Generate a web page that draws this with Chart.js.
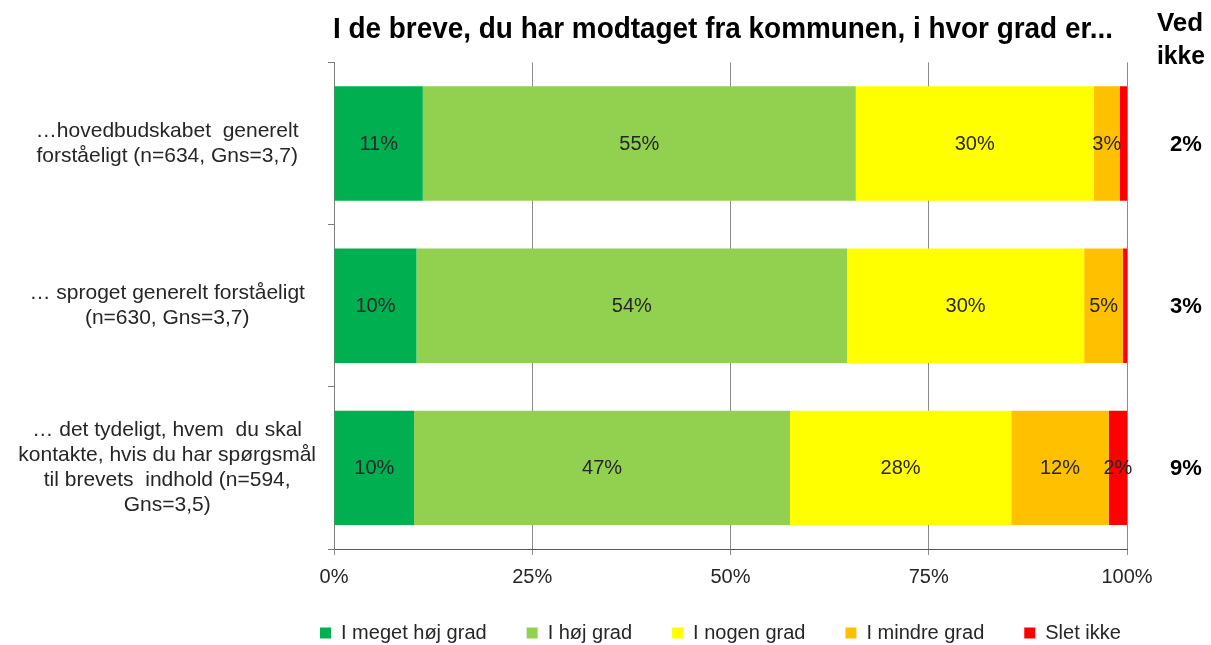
<!DOCTYPE html>
<html>
<head>
<meta charset="utf-8">
<script src="https://cdn.jsdelivr.net/npm/chart.js@4/dist/chart.umd.min.js"></script>
<style>
  html, body { margin: 0; padding: 0; background: #fff; }
  #wrap { width: 1211px; height: 645px; position: relative; }
</style>
</head>
<body>
<div id="wrap"><canvas id="myChart"></canvas></div>
<script>
// data
const titleText = "I de breve, du har modtaget fra kommunen, i hvor grad er...";
const categories = [
  ["…hovedbudskabet  generelt", "forståeligt (n=634, Gns=3,7)"],
  ["… sproget generelt forståeligt", "(n=630, Gns=3,7)"],
  ["… det tydeligt, hvem  du skal", "kontakte, hvis du har spørgsmål", "til brevets  indhold (n=594,", "Gns=3,5)"]
];
const seriesNames = ["I meget høj grad", "I høj grad", "I nogen grad", "I mindre grad", "Slet ikke"];
const meget = [11.2, 10.4, 10.1];
const hoj = [54.6, 54.3, 47.4];
const nogen = [30.0, 29.9, 27.9];
const mindre = [3.3, 4.9, 12.3];
const slet = [0.9, 0.5, 2.3];
const vedIkke = [2, 3, 9];
const xTicks = [0, 25, 50, 75, 100];

const colors = ["#00B050", "#92D050", "#FFFF00", "#FFC000", "#FF0000"];
const values = [meget, hoj, nogen, mindre, slet];

Chart.defaults.font.family = "'Liberation Sans', Arial, sans-serif";
Chart.defaults.color = "#262626";

// labels inside the bars
const barLabels = {
  id: "barLabels",
  afterDatasetsDraw(chart) {
    const ctx = chart.ctx;
    ctx.save();
    ctx.font = "20px 'Liberation Sans', Arial, sans-serif";
    ctx.fillStyle = "#262626";
    ctx.textAlign = "center";
    ctx.textBaseline = "middle";
    chart.data.datasets.forEach((ds, i) => {
      const meta = chart.getDatasetMeta(i);
      meta.data.forEach((bar, j) => {
        const v = ds.data[j];
        if (v < 1.5) return;
        const p = bar.getProps(["x", "base", "y"], true);
        ctx.fillText(Math.round(v) + "%", (p.x + p.base) / 2, p.y + 1);
      });
    });
    ctx.restore();
  }
};

// title + "Ved ikke" column
const extraText = {
  id: "extraText",
  afterDraw(chart) {
    const ctx = chart.ctx;
    const yScale = chart.scales.y;
    ctx.save();
    ctx.fillStyle = "#000";
    ctx.textBaseline = "middle";
    ctx.font = "bold 30px 'Liberation Sans Narrow', 'Liberation Sans', Arial, sans-serif";
    ctx.textAlign = "left";
    ctx.fillText(titleText, 333, 30, 780);
    ctx.textAlign = "center";
    ctx.font = "bold 26px 'Liberation Sans Narrow', 'Liberation Sans', Arial, sans-serif";
    ctx.fillText("Ved", 1180, 24, 48);
    ctx.fillText("ikke", 1181, 57, 48);
    ctx.font = "bold 22px 'Liberation Sans', Arial, sans-serif";
    vedIkke.forEach((v, j) => {
      ctx.fillText(v + "%", 1186, yScale.getPixelForValue(j) + 1);
    });
    ctx.restore();
  }
};

// move the legend so it sits under the plot like the original
const legendShift = {
  id: "legendShift",
  afterLayout(chart) {
    const lg = chart.legend;
    if (!lg || !lg.lineWidths) return;
    const pad = lg.options.labels.padding;
    const start = (lg.left + pad + lg.right - lg.lineWidths[0]) / 2;
    const shift = 320 - start;
    lg.left += shift;
    lg.right += shift;
  }
};

const data = {
  labels: categories,
  datasets: seriesNames.map((name, i) => ({
    label: name,
    data: values[i],
    backgroundColor: colors[i],
    borderWidth: 0,
    categoryPercentage: 1,
    barPercentage: 0.705
  }))
};

const config = {
  type: "bar",
  data,
  options: {
    indexAxis: "y",
    responsive: false,
    animation: false,
    layout: { padding: { top: 59, right: 84, left: 0, bottom: 0 } },
    plugins: {
      title: { display: false },
      tooltip: { enabled: false },
      legend: {
        position: "bottom",
        maxHeight: 62,
        labels: {
          boxWidth: 11,
          boxHeight: 11,
          padding: 40,
          color: "#262626",
          font: { size: 20 }
        }
      }
    },
    scales: {
      x: {
        stacked: true,
        min: 0,
        max: 100,
        afterBuildTicks(scale) {
          scale.ticks = xTicks.map(v => ({ value: v }));
        },
        afterFit(scale) { scale.height = 34; },
        ticks: {
          padding: 10,
          color: "#262626",
          font: { size: 20 },
          callback: v => v + "%"
        },
        grid: { color: "#8c8c8c", lineWidth: 1, tickLength: 6 },
        border: { color: "#595959", width: 1 }
      },
      y: {
        stacked: true,
        afterFit(scale) { scale.width = 334; },
        ticks: {
          padding: 12,
          crossAlign: "center",
          color: "#262626",
          font: { size: 21, lineHeight: 1.2 }
        },
        grid: { offset: true, drawOnChartArea: false, tickLength: 6, color: "#7f7f7f" },
        border: { color: "#7f7f7f", width: 1 }
      }
    }
  },
  plugins: [barLabels, extraText, legendShift]
};

const canvas = document.getElementById("myChart");
canvas.width = 1211;
canvas.height = 645;
const myChart = new Chart(canvas, config);
</script>
</body>
</html>
